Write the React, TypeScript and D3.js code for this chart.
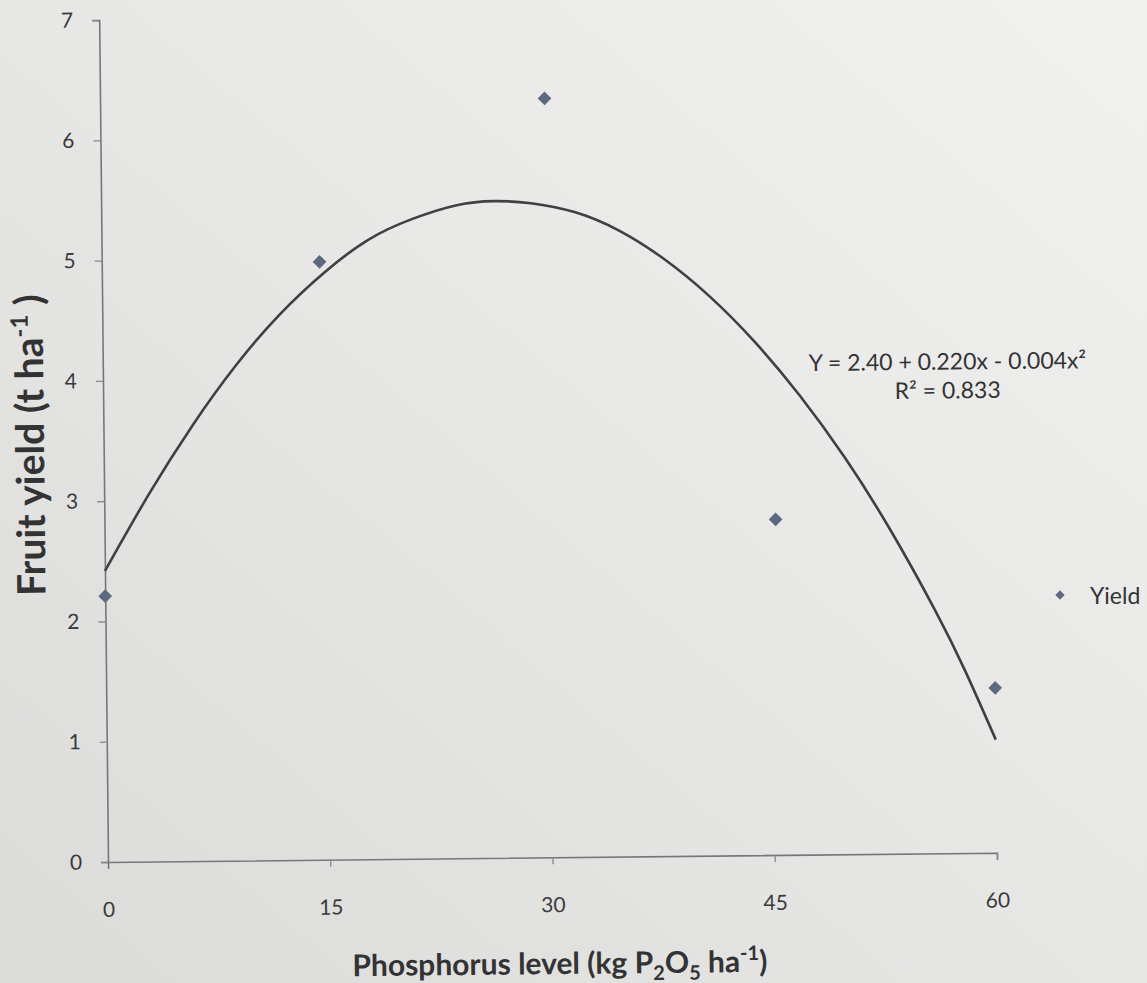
import React, { useEffect, useRef } from 'react'
import * as d3 from 'd3'

// measured yield points (P level, t/ha)
const pLevels = [0, 14.7, 30, 45.3, 60]
const yields = [2.21, 4.97, 6.31, 2.79, 1.37]

// fitted curve, every few units
const trendX = [0, 3, 6, 9, 12, 15, 18, 21, 24, 26.5, 29, 32, 35, 38, 41, 44, 47, 50, 53, 56, 58, 60]
const trendY = [2.42, 3.05, 3.62, 4.12, 4.54, 4.88, 5.15, 5.32, 5.43, 5.46, 5.44, 5.36, 5.2, 4.96,
  4.65, 4.27, 3.82, 3.3, 2.7, 2.02, 1.51, 0.94]

const xTicks = [0, 15, 30, 45, 60]
const yTicks = [0, 1, 2, 3, 4, 5, 6, 7]

const seriesName = 'Yield'
const equation = 'Y = 2.40 + 0.220x - 0.004x²'
const rSquared = 'R² = 0.833'

const W = 1147
const H = 983
const FONT = 'Lato, "Open Sans", sans-serif'

function App() {
  const ref = useRef<SVGSVGElement | null>(null)

  useEffect(() => {
    const svg = d3.select(ref.current)
    svg.selectAll('*').remove()

    // paper-ish background
    const defs = svg.append('defs')
    const grad = defs.append('linearGradient')
      .attr('id', 'paper').attr('x1', '0').attr('y1', '1').attr('x2', '1').attr('y2', '0')
    grad.append('stop').attr('offset', '0%').attr('stop-color', '#dbdbda')
    grad.append('stop').attr('offset', '55%').attr('stop-color', '#e8e8e7')
    grad.append('stop').attr('offset', '100%').attr('stop-color', '#f1f1f0')
    svg.append('rect').attr('width', W).attr('height', H).attr('fill', 'url(#paper)')

    const ox = 108
    const oy = 862
    const x = d3.scaleLinear().domain([0, 60]).range([0, 889])
    const y = d3.scaleLinear().domain([0, 7]).range([0, -842])

    // the photo is slightly tilted
    const g = svg.append('g')
      .attr('transform', `translate(${ox},${oy}) rotate(-0.6)`)
      .style('font-family', FONT)

    const yAxis = g.append('g')
      .call(d3.axisLeft(y).tickValues(yTicks).tickSize(7).tickPadding(19).tickFormat(d3.format('d')))
    const xAxis = g.append('g')
      .call(d3.axisBottom(x).tickValues(xTicks).tickSize(7).tickPadding(33).tickFormat(d3.format('d')))

    for (const ax of [xAxis, yAxis]) {
      ax.select('.domain').attr('stroke', '#777').attr('stroke-width', 1.6)
      ax.selectAll('.tick line').attr('stroke', '#888').attr('stroke-width', 1.3)
      ax.selectAll('.tick text')
        .attr('fill', '#3a3a3a')
        .style('font-size', '21px')
        .style('font-family', FONT)
    }
    xAxis.selectAll('.tick').filter((d) => d === 0).select('line').remove()

    // trend curve
    const pts = trendX.map((v, i) => [x(v), y(trendY[i])] as [number, number])
    g.append('path')
      .attr('d', d3.line().curve(d3.curveNatural)(pts))
      .attr('fill', 'none')
      .attr('stroke', '#404040')
      .attr('stroke-width', 2.6)

    // diamonds
    const diamond = d3.symbol().type(d3.symbolDiamond2).size(120)
    g.selectAll('.pt')
      .data(pLevels)
      .enter().append('path')
      .attr('class', 'pt')
      .attr('d', diamond)
      .attr('transform', (d, i) => `translate(${x(d)},${y(yields[i])})`)
      .attr('fill', '#5b6a7e')

    // equation
    g.append('text')
      .attr('x', x(57.0)).attr('y', y(4.02))
      .attr('text-anchor', 'middle')
      .attr('fill', '#333')
      .style('font-size', '23px')
      .text(equation)
    g.append('text')
      .attr('x', x(57.0)).attr('y', y(3.78))
      .attr('text-anchor', 'middle')
      .attr('fill', '#333')
      .style('font-size', '23px')
      .text(rSquared)

    // legend
    svg.append('path')
      .attr('d', d3.symbol().type(d3.symbolDiamond2).size(55))
      .attr('transform', 'translate(1060,595)')
      .attr('fill', '#5b6a7e')
    svg.append('text')
      .attr('x', 1090).attr('y', 604)
      .attr('fill', '#333')
      .style('font-family', FONT)
      .style('font-size', '23px')
      .text(seriesName)

    // axis titles
    const yt = svg.append('text')
      .attr('transform', 'translate(44,445) rotate(-90.6)')
      .attr('text-anchor', 'middle')
      .attr('fill', '#333')
      .style('font-family', FONT)
      .style('font-size', '39px')
      .style('font-weight', 'bold')
    yt.append('tspan').text('Fruit yield (t ha')
    yt.append('tspan').attr('dy', -15).style('font-size', '24px').text('-1')
    yt.append('tspan').attr('dy', 15).text(' )')

    const xt = svg.append('text')
      .attr('transform', 'translate(560,974) rotate(-0.6)')
      .attr('text-anchor', 'middle')
      .attr('fill', '#333')
      .style('font-family', FONT)
      .style('font-size', '30px')
      .style('font-weight', 'bold')
    xt.append('tspan').text('Phosphorus level (kg P')
    xt.append('tspan').attr('dy', 7).style('font-size', '20px').text('2')
    xt.append('tspan').attr('dy', -7).text('O')
    xt.append('tspan').attr('dy', 7).style('font-size', '20px').text('5')
    xt.append('tspan').attr('dy', -7).text(' ha')
    xt.append('tspan').attr('dy', -12).style('font-size', '20px').text('-1')
    xt.append('tspan').attr('dy', 12).text(')')
  }, [])

  return (
    <svg ref={ref} width={W} height={H}
      style={{ position: 'absolute', left: 0, top: 0, display: 'block' }} />
  )
}

export default App
